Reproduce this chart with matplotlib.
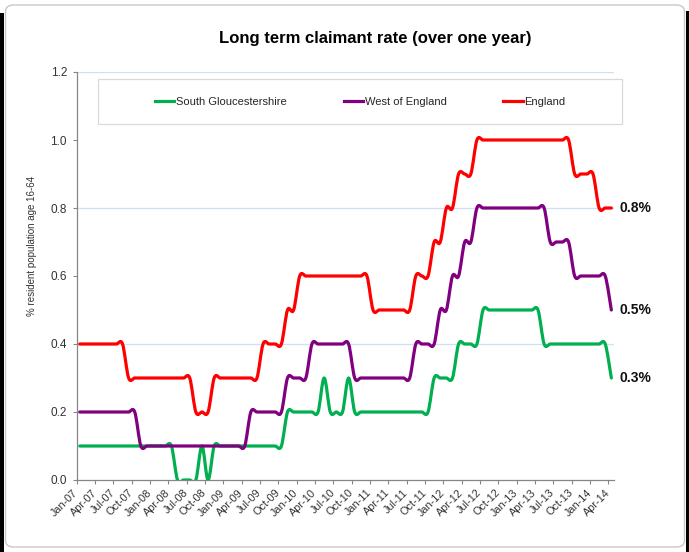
import numpy as np
import matplotlib
matplotlib.use("Agg")
import matplotlib.pyplot as plt
from matplotlib.path import Path
from matplotlib.patches import PathPatch, FancyBboxPatch, Rectangle
from matplotlib.lines import Line2D

plt.rcParams['font.family'] = ['Liberation Sans', 'DejaVu Sans']

W, H = 689, 552

# monthly values Jan-07 .. Apr-14 (one row per year)
south_glos = [0.1, 0.1, 0.1, 0.1, 0.1, 0.1, 0.1, 0.1, 0.1, 0.1, 0.1, 0.1,
              0.1, 0.1, 0.1, 0.1, 0.0, 0.0, 0.0, 0.0, 0.1, 0.0, 0.1, 0.1,
              0.1, 0.1, 0.1, 0.1, 0.1, 0.1, 0.1, 0.1, 0.1, 0.1, 0.2, 0.2,
              0.2, 0.2, 0.2, 0.2, 0.3, 0.2, 0.2, 0.2, 0.3, 0.2, 0.2, 0.2,
              0.2, 0.2, 0.2, 0.2, 0.2, 0.2, 0.2, 0.2, 0.2, 0.2, 0.3, 0.3,
              0.3, 0.3, 0.4, 0.4, 0.4, 0.4, 0.5, 0.5, 0.5, 0.5, 0.5, 0.5,
              0.5, 0.5, 0.5, 0.5, 0.4, 0.4, 0.4, 0.4, 0.4, 0.4, 0.4, 0.4,
              0.4, 0.4, 0.4, 0.3]

west_eng = [0.2, 0.2, 0.2, 0.2, 0.2, 0.2, 0.2, 0.2, 0.2, 0.2, 0.1, 0.1,
            0.1, 0.1, 0.1, 0.1, 0.1, 0.1, 0.1, 0.1, 0.1, 0.1, 0.1, 0.1,
            0.1, 0.1, 0.1, 0.1, 0.2, 0.2, 0.2, 0.2, 0.2, 0.2, 0.3, 0.3,
            0.3, 0.3, 0.4, 0.4, 0.4, 0.4, 0.4, 0.4, 0.4, 0.3, 0.3, 0.3,
            0.3, 0.3, 0.3, 0.3, 0.3, 0.3, 0.3, 0.4, 0.4, 0.4, 0.4, 0.5,
            0.5, 0.6, 0.6, 0.7, 0.7, 0.8, 0.8, 0.8, 0.8, 0.8, 0.8, 0.8,
            0.8, 0.8, 0.8, 0.8, 0.8, 0.7, 0.7, 0.7, 0.7, 0.6, 0.6, 0.6,
            0.6, 0.6, 0.6, 0.5]

england = [0.4, 0.4, 0.4, 0.4, 0.4, 0.4, 0.4, 0.4, 0.3, 0.3, 0.3, 0.3,
           0.3, 0.3, 0.3, 0.3, 0.3, 0.3, 0.3, 0.2, 0.2, 0.2, 0.3, 0.3,
           0.3, 0.3, 0.3, 0.3, 0.3, 0.3, 0.4, 0.4, 0.4, 0.4, 0.5, 0.5,
           0.6, 0.6, 0.6, 0.6, 0.6, 0.6, 0.6, 0.6, 0.6, 0.6, 0.6, 0.6,
           0.5, 0.5, 0.5, 0.5, 0.5, 0.5, 0.5, 0.6, 0.6, 0.6, 0.7, 0.7,
           0.8, 0.8, 0.9, 0.9, 0.9, 1.0, 1.0, 1.0, 1.0, 1.0, 1.0, 1.0,
           1.0, 1.0, 1.0, 1.0, 1.0, 1.0, 1.0, 1.0, 1.0, 0.9, 0.9, 0.9,
           0.9, 0.8, 0.8, 0.8]

tick_labels = ["Jan-07", "Apr-07", "Jul-07", "Oct-07", "Jan-08", "Apr-08", "Jul-08", "Oct-08",
               "Jan-09", "Apr-09", "Jul-09", "Oct-09", "Jan-10", "Apr-10", "Jul-10", "Oct-10",
               "Jan-11", "Apr-11", "Jul-11", "Oct-11", "Jan-12", "Apr-12", "Jul-12", "Oct-12",
               "Jan-13", "Apr-13", "Jul-13", "Oct-13", "Jan-14", "Apr-14"]

names = ["South Gloucestershire", "West of England", "England"]
colors = ["#00B050", "#800080", "#FF0000"]
end_labels = ["0.3%", "0.5%", "0.8%"]


def smooth_path(x, y):
    # excel-like smoothed line: cubic bezier through every point
    pts = np.column_stack([x, y])
    n = len(pts)
    verts = [pts[0]]
    codes = [Path.MOVETO]
    for k in range(n - 1):
        p0 = pts[max(k - 1, 0)]
        p1 = pts[k]
        p2 = pts[k + 1]
        p3 = pts[min(k + 2, n - 1)]
        verts += [p1 + (p2 - p0) / 6., p2 - (p3 - p1) / 6., p2]
        codes += [Path.CURVE4] * 3
    return Path(verts, codes)


fig = plt.figure(figsize=(W / 100., H / 100.), dpi=100)
fig.patch.set_facecolor("white")

# outer rounded frame + dark screenshot edges
fig.patches.append(FancyBboxPatch((5.5 / W, 5. / H), 679. / W, 542. / H,
                                  boxstyle="round,pad=0,rounding_size=0.012",
                                  transform=fig.transFigure, fc="none", ec="#C8C8C8", lw=1.0,
                                  zorder=-5))
fig.patches.append(Rectangle((0, 0), 4. / W, 1 - 13. / H, transform=fig.transFigure,
                             fc="black", ec="none", zorder=-5))
fig.patches.append(Rectangle((686. / W, 0), 3. / W, 1 - 11. / H, transform=fig.transFigure,
                             fc="black", ec="none", zorder=-5))

ax = fig.add_axes([76.7 / W, 1 - 480. / H, (614.4 - 76.7) / W, (480. - 72.) / H])
ax.set_facecolor("none")
ax.set_zorder(1)

n = len(england)
x = np.arange(n) + 0.5

for g in [0.4, 0.8, 1.2]:
    ax.axhline(g, color="#CFE0F1", lw=0.9, zorder=1)

for vals, c in zip([south_glos, west_eng, england], colors):
    ax.add_patch(PathPatch(smooth_path(x, np.array(vals)), fill=False, ec=c, lw=2.3,
                           capstyle="round", joinstyle="round", zorder=3))

for vals, lab in zip([south_glos, west_eng, england], end_labels):
    ax.text(n + 0.9, vals[-1], lab, fontsize=10, fontweight="bold", va="center",
            ha="left", color="#111111", clip_on=False)

ax.set_xlim(0, n)
ax.set_ylim(0, 1.2)
ax.set_yticks(np.arange(0, 1.21, 0.2))
ax.set_yticklabels(["%.1f" % v for v in np.arange(0, 1.21, 0.2)], fontsize=8.5, color="#333333")
ax.set_xticks(np.arange(0, n, 3))
ax.set_xticklabels(tick_labels, rotation=45, ha="right", va="center",
                   rotation_mode="anchor", fontsize=7.8, color="#333333")

for s in ["top", "right"]:
    ax.spines[s].set_visible(False)
for s in ["left", "bottom"]:
    ax.spines[s].set_color("#868686")
    ax.spines[s].set_linewidth(0.9)
ax.tick_params(axis="both", direction="out", length=3, width=0.8, color="#868686")
ax.tick_params(axis="y", pad=4)
ax.tick_params(axis="x", pad=5)

fig.text(31.7 / W, 1 - 246. / H, "% resident population age 16-64", rotation=90,
         ha="center", va="center", fontsize=7, color="#333333")
fig.text(375.5 / W, 1 - 38. / H, "Long term claimant rate (over one year)",
         ha="center", va="center", fontsize=12, fontweight="bold", color="black")

# legend box (drawn over the top gridline, like the original)
leg_box = Rectangle((98.3 / W, 1 - 124. / H), (622. - 98.3) / W, 45. / H,
                    transform=fig.transFigure, fc="white", ec="#D9D9D9", lw=0.9, zorder=2)
fig.patches.append(leg_box)
handles = [Line2D([], [], color=c, lw=2.3) for c in colors]
leg = fig.legend(handles, names, loc="center left", bbox_to_anchor=(155. / W, 1 - 102. / H),
                 ncol=3, frameon=False, fontsize=8, handlelength=1.75, handletextpad=0.15,
                 columnspacing=5.1, borderpad=0, borderaxespad=0)
leg.set_zorder(3)
for t in leg.get_texts():
    t.set_color("#262626")

fig.savefig("out.png", dpi=100)
